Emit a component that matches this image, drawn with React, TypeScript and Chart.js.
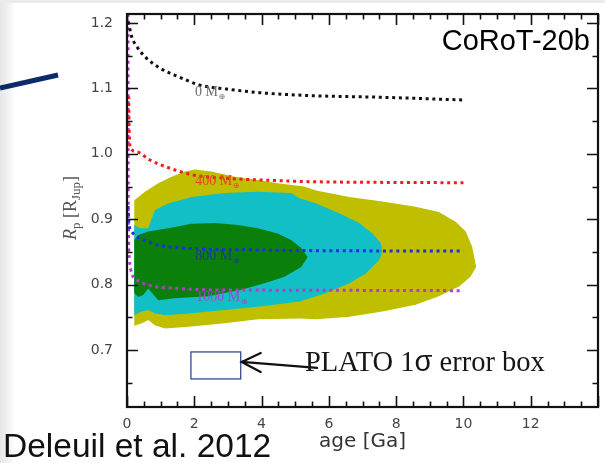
import React, { useEffect, useRef } from "react";
import { Chart, registerables } from "chart.js";

Chart.register(...registerables);

// ---- axes ----
const ageMin = 0;
const ageMax = 14;
const radiusMin = 0.6128;
const radiusMax = 1.2138;
const ageTickValues = [0, 2, 4, 6, 8, 10, 12, 14];
const ageTickLabels = ["0", "2", "4", "6", "8", "10", "12", ""];
const radiusTickValues = [0.7, 0.8, 0.9, 1.0, 1.1, 1.2];
const radiusTickLabels = ["0.7", "0.8", "0.9", "1.0", "1.1", "1.2"];
const ageMinorStep = 0.5;
const radiusMinorStep = 0.05;

// ---- confidence regions (age [Ga], radius [R_Jup]) ----
const regionOuter: [number, number][] = [
  [0.216, 0.929], [0.533, 0.942], [0.927, 0.955], [1.324, 0.965], [1.719, 0.973],
  [2.015, 0.976], [2.51, 0.973], [3.2, 0.965], [3.89, 0.96], [4.48, 0.955],
  [5.27, 0.95], [5.62, 0.944], [6.61, 0.934], [7.59, 0.927], [8.58, 0.919],
  [9.27, 0.911], [9.77, 0.896], [10.07, 0.881], [10.26, 0.858], [10.38, 0.827],
  [10.21, 0.812], [9.87, 0.797], [9.27, 0.782], [8.58, 0.769], [7.59, 0.759],
  [6.61, 0.751], [5.62, 0.747], [5.13, 0.748], [3.89, 0.747], [2.9, 0.741],
  [1.92, 0.736], [1.13, 0.733], [0.83, 0.738], [0.63, 0.746], [0.44, 0.741],
  [0.216, 0.737],
];
const regionMiddle: [number, number][] = [
  [0.216, 0.891], [0.385, 0.886], [0.63, 0.886], [0.83, 0.914], [1.22, 0.924],
  [1.92, 0.934], [2.9, 0.94], [3.89, 0.942], [4.88, 0.94], [5.13, 0.932],
  [5.62, 0.924], [6.31, 0.909], [6.9, 0.894], [7.3, 0.878], [7.55, 0.863],
  [7.59, 0.85], [7.5, 0.838], [7.1, 0.817], [6.61, 0.802], [5.92, 0.787],
  [5.13, 0.774], [3.89, 0.766], [2.9, 0.761], [1.92, 0.756], [1.13, 0.753],
  [0.83, 0.756], [0.63, 0.761], [0.44, 0.759], [0.216, 0.753],
];
const regionInner: [number, number][] = [
  [0.216, 0.868], [0.335, 0.876], [0.63, 0.881], [1.22, 0.886], [1.92, 0.893],
  [2.61, 0.894], [3.3, 0.891], [3.89, 0.886], [4.48, 0.878], [4.88, 0.868],
  [5.18, 0.856], [5.37, 0.842], [5.18, 0.827], [4.68, 0.812], [4.09, 0.802],
  [3.4, 0.792], [2.41, 0.782], [1.42, 0.779], [0.93, 0.776], [0.63, 0.794],
  [0.48, 0.784], [0.335, 0.781], [0.216, 0.787],
];

// ---- evolution tracks for different core masses ----
const track0: [number, number][] = [
  [0.04, 1.202], [0.14, 1.179], [0.29, 1.164], [0.585, 1.146], [0.98, 1.131],
  [1.57, 1.117], [2.17, 1.105], [2.96, 1.099], [3.95, 1.0934], [5.44, 1.089],
  [7.61, 1.0864], [10, 1.0823],
];
const track400: [number, number][] = [
  [0.05, 1.088], [0.06, 1.05], [0.09, 1.011], [0.29, 1.003], [0.68, 0.9905],
  [1.27, 0.978], [1.97, 0.9676], [2.96, 0.9625], [3.95, 0.96], [5.44, 0.9574],
  [7.6, 0.9563], [10, 0.9558],
];
const track800: [number, number][] = [
  [0.03, 0.92], [0.06, 0.893], [0.14, 0.881], [0.53, 0.868], [0.93, 0.8606],
  [1.43, 0.857], [2.42, 0.854], [3.9, 0.853], [5.3, 0.852], [7.6, 0.8515],
  [10, 0.8514],
];
const track1000: [number, number][] = [
  [0.03, 1.214], [0.035, 1.0], [0.04, 0.9], [0.07, 0.84], [0.14, 0.817],
  [0.24, 0.8096], [0.63, 0.7994], [1.43, 0.7943], [2.9, 0.7917], [5.3, 0.7915],
  [7.6, 0.791], [10, 0.7907],
];
const trackMasses = ["0", "400", "800", "1000"];
const trackLabelAge = [2.02, 2.03, 2.03, 2.06];
const trackLabelRadius = [1.0884, 0.9523, 0.8376, 0.7749];

// ---- PLATO 1-sigma error box ----
const platoBoxAge = [1.9, 3.38];
const platoBoxRadius = [0.6557, 0.697];
const platoArrowTail = [5.65, 0.6725];
const platoArrowTip = [3.41, 0.6817];

const regionColors = ["#bfbf00", "#12bfc6", "#0a800a"];
const trackColors = ["#111111", "#f01c1c", "#1e2ee0", "#b43cc8"];
const trackLabelColors = ["#6e6e6e", "#e2461c", "#1c3a90", "#9c4cc8"];

const toPoints = (arr: [number, number][]) => arr.map(([x, y]) => ({ x, y }));

const decorPlugin = {
  id: "decor",
  afterDatasetsDraw(chart: any) {
    const ctx: CanvasRenderingContext2D = chart.ctx;
    const xs = chart.scales.x;
    const ys = chart.scales.y;
    const { left, right, top, bottom } = chart.chartArea;

    ctx.save();
    // mass labels on tracks
    trackMasses.forEach((m, i) => {
      const px = xs.getPixelForValue(trackLabelAge[i]);
      const py = ys.getPixelForValue(trackLabelRadius[i]);
      ctx.fillStyle = trackLabelColors[i];
      ctx.textAlign = "left";
      ctx.textBaseline = "alphabetic";
      ctx.font = '14px "Liberation Serif"';
      const txt = `${m} M`;
      ctx.fillText(txt, px, py);
      const w = ctx.measureText(txt).width;
      ctx.font = '8px "DejaVu Sans"';
      ctx.fillText("\u2295", px + w + 0.5, py + 3);
    });

    // error box
    const bx0 = xs.getPixelForValue(platoBoxAge[0]);
    const bx1 = xs.getPixelForValue(platoBoxAge[1]);
    const by0 = ys.getPixelForValue(platoBoxRadius[1]);
    const by1 = ys.getPixelForValue(platoBoxRadius[0]);
    ctx.fillStyle = "#ffffff";
    ctx.fillRect(bx0, by0, bx1 - bx0, by1 - by0);
    ctx.strokeStyle = "#2e4c8c";
    ctx.lineWidth = 1.3;
    ctx.strokeRect(bx0, by0, bx1 - bx0, by1 - by0);

    // arrow pointing at the box
    const ax0 = xs.getPixelForValue(platoArrowTail[0]);
    const ay0 = ys.getPixelForValue(platoArrowTail[1]);
    const ax1 = xs.getPixelForValue(platoArrowTip[0]);
    const ay1 = ys.getPixelForValue(platoArrowTip[1]);
    ctx.strokeStyle = "#111";
    ctx.lineWidth = 2.2;
    ctx.lineCap = "round";
    ctx.beginPath();
    ctx.moveTo(ax0, ay0);
    ctx.lineTo(ax1, ay1);
    ctx.moveTo(ax1 + 19, ay1 - 9);
    ctx.lineTo(ax1, ay1);
    ctx.lineTo(ax1 + 19, ay1 + 10);
    ctx.stroke();
    ctx.lineCap = "butt";

    // PLATO label
    ctx.fillStyle = "#161616";
    ctx.textBaseline = "alphabetic";
    ctx.textAlign = "left";
    let tx = 305;
    const ty = 371;
    ctx.font = '28.5px "Liberation Serif"';
    ctx.fillText("PLATO 1", tx, ty);
    tx += ctx.measureText("PLATO 1").width;
    ctx.font = '29px "Liberation Sans"';
    ctx.fillText("\u03c3", tx, ty);
    tx += ctx.measureText("\u03c3").width;
    ctx.font = '28.5px "Liberation Serif"';
    ctx.fillText(" error box", tx, ty);

    // frame
    ctx.strokeStyle = "#111";
    ctx.lineWidth = 2.2;
    ctx.strokeRect(left, top, right - left, bottom - top);

    // inward ticks on all four sides
    ctx.lineWidth = 1.6;
    ctx.beginPath();
    for (let v = ageMin; v <= ageMax + 1e-9; v += ageMinorStep) {
      const px = Math.round(xs.getPixelForValue(v)) + 0.5;
      const major = Math.abs(v / 2 - Math.round(v / 2)) < 1e-6;
      const len = major ? 11 : 5.5;
      ctx.moveTo(px, bottom);
      ctx.lineTo(px, bottom - len);
      ctx.moveTo(px, top);
      ctx.lineTo(px, top + len);
    }
    for (let k = 0; ; k++) {
      const v = 0.65 + k * radiusMinorStep;
      if (v > radiusMax) break;
      const py = Math.round(ys.getPixelForValue(v)) + 0.5;
      const major = k % 2 === 1;
      const len = major ? 11 : 5.5;
      ctx.moveTo(left, py);
      ctx.lineTo(left + len, py);
      ctx.moveTo(right, py);
      ctx.lineTo(right - len, py);
    }
    ctx.stroke();
    ctx.restore();
  },
  afterDraw(chart: any) {
    const ctx: CanvasRenderingContext2D = chart.ctx;
    ctx.save();
    // y axis title: R_p [R_Jup]
    ctx.translate(76, 208);
    ctx.rotate(-Math.PI / 2);
    ctx.fillStyle = "#555";
    ctx.textBaseline = "alphabetic";
    ctx.textAlign = "left";
    const parts = [
      { t: "R", f: 'italic 18px "Liberation Serif"', dy: 0 },
      { t: "p", f: '13px "Liberation Serif"', dy: 4 },
      { t: " [R", f: '18px "Liberation Serif"', dy: 0 },
      { t: "Jup", f: '13px "Liberation Serif"', dy: 4 },
      { t: "]", f: '18px "Liberation Serif"', dy: 0 },
    ];
    let total = 0;
    parts.forEach((p) => {
      ctx.font = p.f;
      total += ctx.measureText(p.t).width;
    });
    let x = -total / 2;
    parts.forEach((p) => {
      ctx.font = p.f;
      ctx.fillText(p.t, x, p.dy);
      x += ctx.measureText(p.t).width;
    });
    ctx.restore();

    ctx.save();
    // planet name
    ctx.fillStyle = "#000";
    ctx.font = '29px "Liberation Sans"';
    ctx.textAlign = "right";
    ctx.textBaseline = "alphabetic";
    ctx.fillText("CoRoT-20b", 590, 50);
    // reference
    ctx.textAlign = "left";
    ctx.fillStyle = "#111";
    ctx.font = '33.5px "Liberation Sans"';
    ctx.fillText("Deleuil et al. 2012", 3, 457);
    // slide connector line
    ctx.strokeStyle = "#0c2a6a";
    ctx.lineWidth = 5;
    ctx.beginPath();
    ctx.moveTo(0, 88);
    ctx.lineTo(58, 75);
    ctx.stroke();
    ctx.restore();
  },
};

export default function App() {
  const ref = useRef<HTMLCanvasElement | null>(null);

  useEffect(() => {
    if (!ref.current) return;
    const regionDs = [regionInner, regionMiddle, regionOuter].map((r, i) => ({
      data: toPoints(r),
      fill: "shape",
      backgroundColor: regionColors[2 - i],
      borderColor: "rgba(0,0,0,0)",
      borderWidth: 0,
      pointRadius: 0,
      tension: 0,
      order: 10 + i,
    }));
    const trackDs = [track0, track400, track800, track1000].map((t, i) => ({
      data: toPoints(t),
      fill: false,
      borderColor: trackColors[i],
      borderWidth: 3,
      borderDash: [3, 3.7],
      pointRadius: 0,
      cubicInterpolationMode: "monotone",
      order: i,
    }));

    const chart = new Chart(ref.current, {
      type: "line",
      data: { datasets: [...trackDs, ...regionDs] as any },
      options: {
        animation: false,
        responsive: false,
        layout: { padding: { left: 0, top: 14, right: 7, bottom: 0 } },
        plugins: { legend: { display: false }, tooltip: { enabled: false } },
        scales: {
          x: {
            type: "linear",
            min: ageMin,
            max: ageMax,
            grid: { display: false, drawTicks: false },
            border: { display: false },
            afterBuildTicks: (scale: any) => {
              scale.ticks = ageTickValues.map((v) => ({ value: v }));
            },
            ticks: {
              autoSkip: false,
              maxRotation: 0,
              padding: 9,
              color: "#444",
              font: { family: "DejaVu Sans", size: 14 },
              callback: (v: any) => {
                const i = ageTickValues.indexOf(Number(v));
                return i >= 0 ? ageTickLabels[i] : "";
              },
            },
            title: {
              display: true,
              text: "age [Ga]",
              color: "#333",
              font: { family: "DejaVu Sans", size: 20 },
              padding: { top: 0, bottom: 9 },
            },
            afterFit: (scale: any) => {
              scale.height = 56;
              scale.paddingLeft = 0;
              scale.paddingRight = 0;
            },
          },
          y: {
            type: "linear",
            min: radiusMin,
            max: radiusMax,
            grid: { display: false, drawTicks: false },
            border: { display: false },
            afterBuildTicks: (scale: any) => {
              scale.ticks = radiusTickValues.map((v) => ({ value: v }));
            },
            ticks: {
              autoSkip: false,
              padding: 14,
              color: "#444",
              font: { family: "DejaVu Sans", size: 14 },
              callback: (v: any) => {
                const i = radiusTickValues.findIndex((t) => Math.abs(t - Number(v)) < 1e-6);
                return i >= 0 ? radiusTickLabels[i] : "";
              },
            },
            afterFit: (scale: any) => {
              scale.width = 127;
              scale.paddingTop = 0;
              scale.paddingBottom = 0;
            },
          },
        },
      },
      plugins: [decorPlugin],
    });
    return () => chart.destroy();
  }, []);

  return (
    <div
      style={{
        position: "absolute",
        left: 0,
        top: 0,
        width: 605,
        height: 463,
        background:
          "linear-gradient(to bottom, #ececec 0px, #ececec 3px, rgba(255,255,255,0) 3px), linear-gradient(to right, #e6e6e6 0px, #f2f2f2 8px, #ffffff 15px)",
      }}
    >
      <canvas ref={ref} width={605} height={463} style={{ display: "block" }} />
    </div>
  );
}
